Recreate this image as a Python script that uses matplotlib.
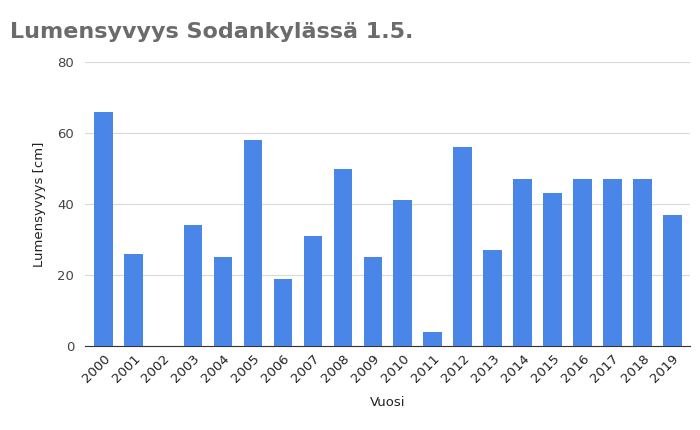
import matplotlib
matplotlib.use("Agg")
import matplotlib.pyplot as plt

years = [str(y) for y in range(2000, 2020)]
depth_cm = [66, 26, 0, 34, 25, 58, 19, 31, 50, 25, 41, 4, 56, 27, 47, 43, 47, 47, 47, 37]
yticks = [0, 20, 40, 60, 80]

fig = plt.figure(figsize=(7, 4.3), dpi=100)
ax = fig.add_axes([0.122, 0.195, 0.864, 0.661])

ax.bar(range(len(years)), depth_cm, width=0.62, color="#4a86e8", zorder=3)
ax.set_xlim(-0.6, len(years) - 0.4)
ax.set_ylim(0, 80)
ax.set_yticks(yticks)
ax.set_xticks(range(len(years)))
ax.set_xticklabels(years, rotation=45, ha="right", rotation_mode="anchor", fontsize=9.5, color="#222222")
ax.tick_params(axis="y", labelsize=9.5, colors="#444444", length=0, pad=8)
ax.tick_params(axis="x", length=0, pad=4)
ax.grid(axis="y", color="#d9d9d9", linewidth=0.8, zorder=0)
for s in ["top", "right", "left"]:
    ax.spines[s].set_visible(False)
ax.spines["bottom"].set_color("#333333")

ax.set_ylabel("Lumensyvyys [cm]", fontsize=9.5, color="#222222", labelpad=8)
ax.set_xlabel("Vuosi", fontsize=9.5, color="#222222", labelpad=8)

fig.text(0.014, 0.925, "Lumensyvyys Sodankylässä 1.5.", fontsize=16, fontweight="bold",
         color="#6b6b6b", va="center", ha="left")

fig.savefig("out.png", dpi=100)
